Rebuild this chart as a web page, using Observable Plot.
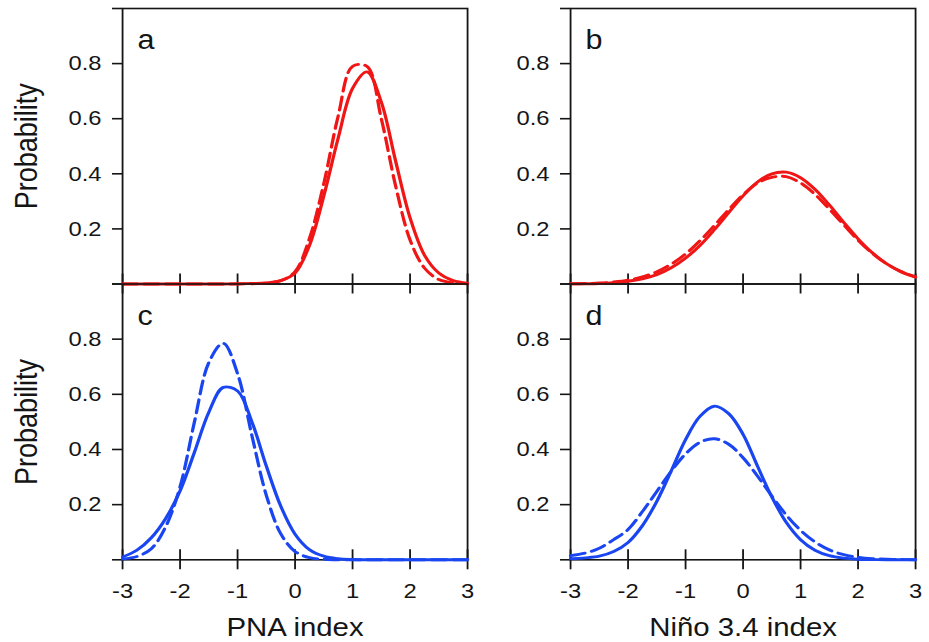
<!DOCTYPE html>
<html><head><meta charset="utf-8">
<script src="https://cdn.jsdelivr.net/npm/d3@7"></script>
<script src="https://cdn.jsdelivr.net/npm/@observablehq/plot@0.6"></script>
<style>
html,body{margin:0;padding:0;background:#fff;}
#wrap{position:relative;width:929px;height:642px;overflow:hidden;background:#fff;}
#inner{position:absolute;left:0;top:0;width:822px;height:642px;transform:scaleX(1.13017);transform-origin:0 0;}
#inner svg{position:absolute;left:0;top:0;}
</style></head><body><div id="wrap"><div id="inner"></div></div>
<script>
// ---- data ----
const xGrid = [-3,-2.75,-2.5,-2.25,-2,-1.75,-1.5,-1.25,-1,-0.75,-0.5,-0.25,0,0.25,0.5,0.75,1,1.25,1.5,1.75,2,2.25,2.5,2.75,3];
const xTicks = [-3,-2,-1,0,1,2,3];
const yTicks = [0,0.2,0.4,0.6,0.8,1];
const panelLetters = ["a","b","c","d"];
const xLabels = ["PNA index","Niño 3.4 index"];
const yLabel = "Probability";

// panel a (PNA, red)
const pnaRedSolid  = [0,0,0,0,0,0,0,0,0.001,0.002,0.004,0.012,0.04,0.14,0.32,0.53,0.71,0.77,0.66,0.445,0.24,0.105,0.04,0.012,0.003];
const pnaRedDashed = [0,0,0,0,0,0,0,0,0,0.001,0.003,0.012,0.045,0.165,0.365,0.61,0.79,0.79,0.6,0.355,0.16,0.058,0.016,0.004,0.001];
// panel b (Nino 3.4, red)
const ninoRedSolid  = [0.0004,0.0009,0.002,0.005,0.01,0.019,0.034,0.059,0.094,0.14,0.197,0.259,0.32,0.37,0.4,0.406,0.386,0.344,0.287,0.224,0.164,0.113,0.073,0.044,0.025];
const ninoRedDashed = [0.0007,0.0016,0.0035,0.0073,0.014,0.026,0.044,0.072,0.109,0.157,0.212,0.27,0.324,0.366,0.387,0.39,0.367,0.326,0.272,0.215,0.159,0.111,0.073,0.045,0.026];
// panel c (PNA, blue)
const pnaBlueSolid  = [0.01,0.035,0.08,0.15,0.25,0.39,0.535,0.625,0.612,0.5,0.34,0.195,0.093,0.037,0.013,0.004,0.001,0,0,0,0,0,0,0,0];
const pnaBlueDashed = [0.003,0.012,0.04,0.12,0.265,0.5,0.715,0.785,0.675,0.45,0.234,0.095,0.03,0.008,0.002,0,0,0,0,0,0,0,0,0,0];
// panel d (Nino 3.4, blue)
const ninoBlueSolid  = [0.004,0.007,0.013,0.03,0.063,0.124,0.212,0.322,0.436,0.52,0.557,0.53,0.455,0.34,0.228,0.136,0.073,0.035,0.015,0.006,0.002,0.001,0,0,0];
const ninoBlueDashed = [0.015,0.024,0.042,0.073,0.11,0.175,0.248,0.321,0.384,0.426,0.439,0.419,0.37,0.304,0.231,0.163,0.107,0.065,0.036,0.019,0.009,0.004,0.002,0.001,0];

const RED = "#f01616", BLUE = "#1a46f2", INK = "#151515";

// ---- layout (reference pixels, stretched horizontally like the reference) ----
const W = 822, H = 642, S = 929 / W;
const colL = [122, 570], colR = [467, 915];
const rowT = [8, 283.5], rowB = [283.5, 559.3];

const panels = [
  {col:0,row:0,letter:panelLetters[0],solid:pnaRedSolid, dashed:pnaRedDashed, color:RED},
  {col:1,row:0,letter:panelLetters[1],solid:ninoRedSolid,dashed:ninoRedDashed,color:RED},
  {col:0,row:1,letter:panelLetters[2],solid:pnaBlueSolid, dashed:pnaBlueDashed, color:BLUE},
  {col:1,row:1,letter:panelLetters[3],solid:ninoBlueSolid,dashed:ninoBlueDashed,color:BLUE}
];

const rowsOf = arr => xGrid.map((x, i) => ({x, v: arr[i]}));
const inner = document.getElementById("inner");

for (const p of panels) {
  const marks = [
    Plot.frame({stroke: INK, strokeWidth: 1.6}),
    Plot.axisY(yTicks, {tickSize: 10 / S, tickPadding: 11 / S, stroke: INK, strokeWidth: 1.6, fill: INK,
      fontSize: 21, label: null, tickFormat: d => (d > 0 && d < 1) ? d.toFixed(1) : ""}),
    Plot.axisX(xTicks, {tickSize: 20, dy: -10, stroke: INK, strokeWidth: 1.6, fill: "none", label: null, tickFormat: () => ""}),
    Plot.line(rowsOf(p.dashed), {x: "x", y: "v", stroke: p.color, strokeWidth: 2.9, curve: "catmull-rom", strokeDasharray: "13,6"}),
    Plot.line(rowsOf(p.solid), {x: "x", y: "v", stroke: p.color, strokeWidth: 2.9, curve: "catmull-rom"}),
    Plot.text([p.letter], {text: d => d, frameAnchor: "top-left", dx: 15 / S, dy: 32, textAnchor: "start",
      lineAnchor: "middle", fontSize: 27, fill: INK})
  ];
  if (p.row === 1) {
    marks.push(Plot.axisX(xTicks, {tickSize: 0, tickPadding: 23, stroke: "none", fill: INK, fontSize: 21,
      label: null, tickFormat: d => String(d)}));
    marks.push(Plot.text([xLabels[p.col]], {text: d => d, frameAnchor: "bottom", dy: 58, lineAnchor: "top",
      fontSize: 26, fill: INK}));
  }
  if (p.col === 0) {
    marks.push(Plot.text([yLabel], {text: d => d, frameAnchor: "left", dx: (27 - colL[0]) / S, rotate: -90,
      lineAnchor: "middle", textAnchor: "middle", fontSize: 27, fill: INK}));
  }
  const svg = Plot.plot({
    width: W, height: H,
    marginLeft: colL[p.col] / S,
    marginRight: (929 - colR[p.col]) / S,
    marginTop: rowT[p.row],
    marginBottom: H - rowB[p.row],
    x: {domain: [-3, 3]},
    y: {domain: [0, 1]},
    style: "background: transparent; overflow: visible; font-family: 'Liberation Sans', Arial, sans-serif; font-size: 21px; color: #151515;",
    marks
  });
  inner.appendChild(svg);
}
</script></body></html>
